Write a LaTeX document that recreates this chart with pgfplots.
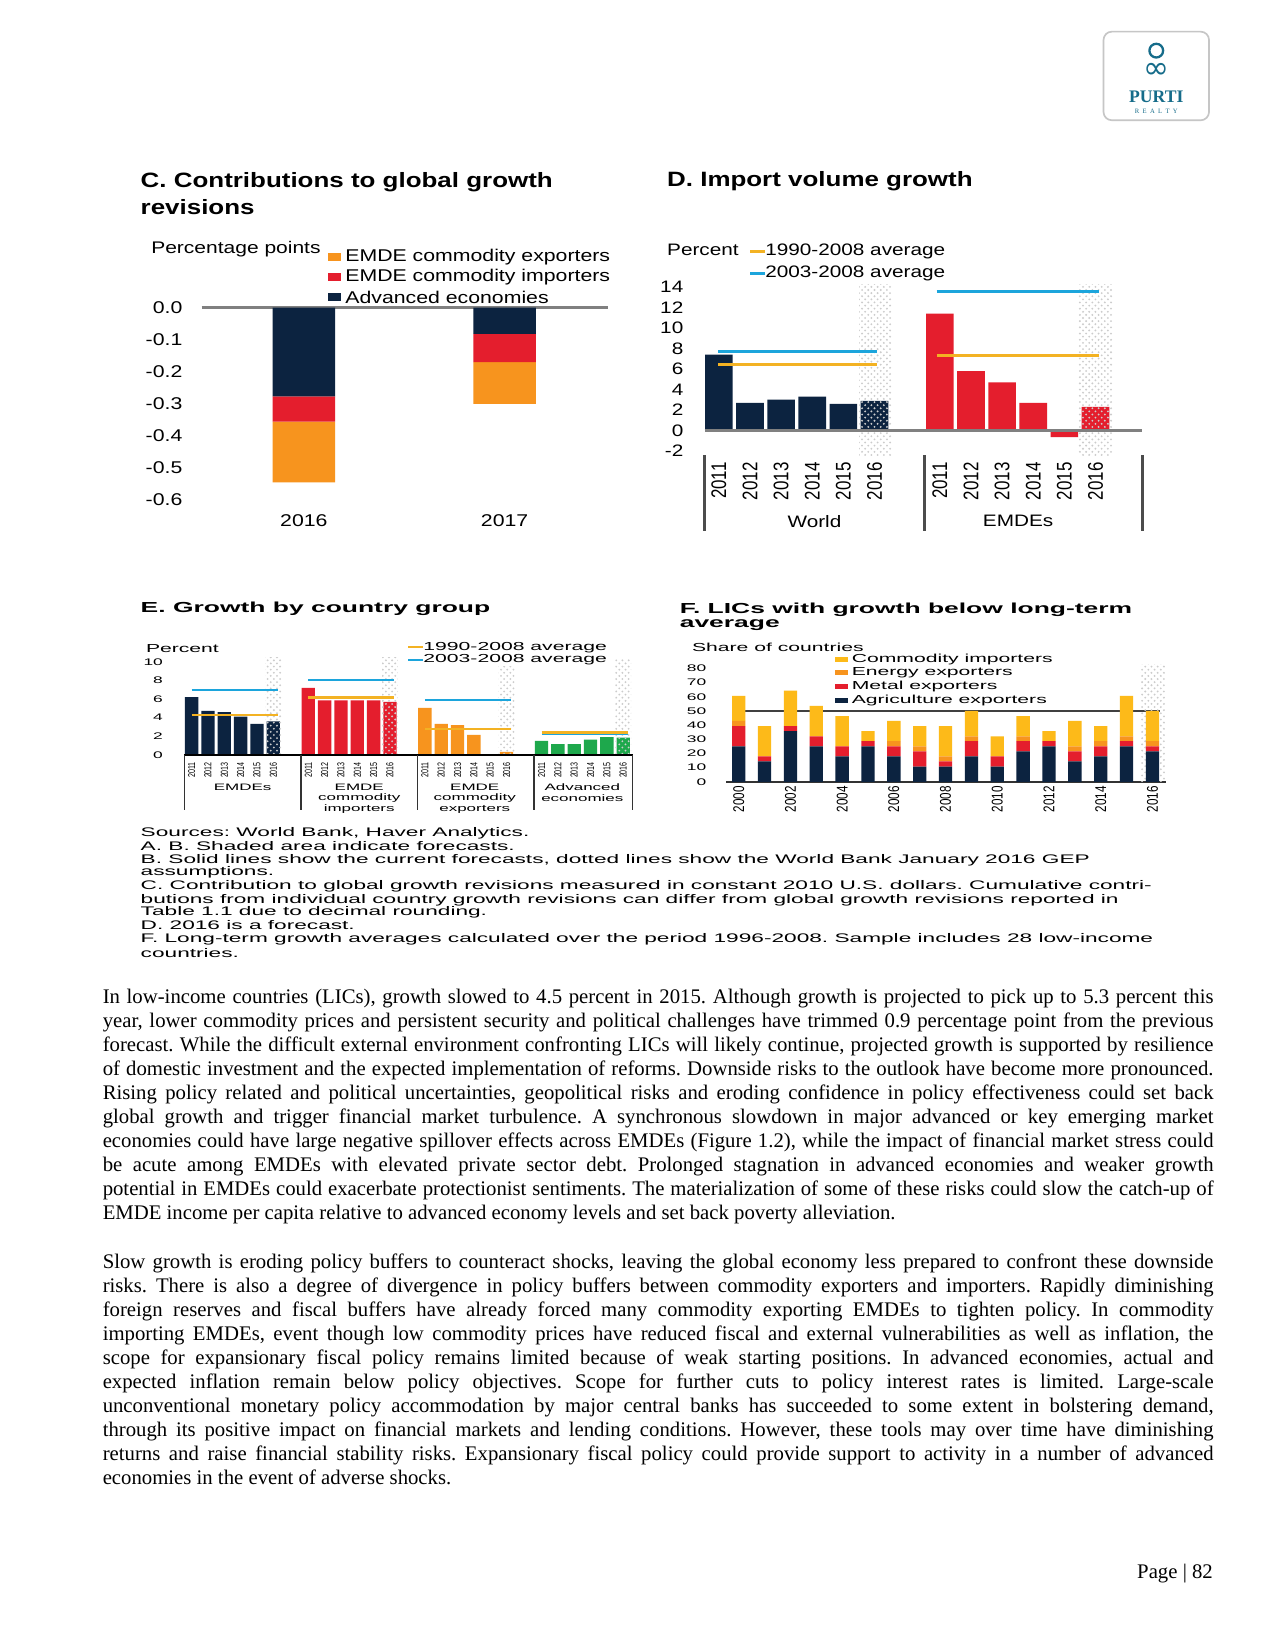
\documentclass[border=0pt]{standalone}
\usepackage{fontspec}
\setmainfont{Liberation Serif}
\newfontfamily\fC[FakeStretch=1.25]{Liberation Sans}
\newfontfamily\fE[FakeStretch=1.82]{Liberation Sans}
\newfontfamily\fRD[FakeStretch=0.8]{Liberation Sans}
\newfontfamily\fRE[FakeStretch=0.7]{Liberation Sans}
\newfontfamily\fRF[FakeStretch=0.75]{Liberation Sans}
\newfontfamily\fsym{DejaVu Sans}
\usepackage{pgfplots}
\pgfplotsset{compat=1.18}
\usetikzlibrary{patterns}
\frenchspacing

\definecolor{navy}{RGB}{12,35,64}
\definecolor{wbred}{RGB}{228,30,45}
\definecolor{wborange}{RGB}{247,148,30}
\definecolor{wbyellow}{RGB}{253,186,25}
\definecolor{avgyellow}{RGB}{243,178,35}
\definecolor{avgblue}{RGB}{28,165,220}
\definecolor{wbgreen}{RGB}{30,168,76}
\definecolor{logo}{RGB}{22,108,138}

\newcommand\fs[1]{\fontsize{#1}{#1}\selectfont}
% one justified line of body text, and a last (ragged) line
\newcommand\JL[2]{\node[anchor=base west,inner sep=0pt] at (97,#1) {\hbox to 533.4bp{#2}};}
\newcommand\LL[2]{\node[anchor=base west,inner sep=0pt] at (97,#1) {#2};}
\newcommand\NL[2]{\node[anchor=west,inner sep=0pt,font=\fE\fs{6}] at (133,#1) {#2};}

\pgfplotsset{
  page/.style={scale only axis, anchor=south west, clip=false, enlargelimits=false,
    axis line style={draw=none}, major tick length=0pt,
    tick label style={inner sep=0pt}},
}
\tikzset{shade/.style={pattern=crosshatch dots, pattern color=gray!40},
  lbl/.style={anchor=west, inner sep=0pt}}

\begin{document}
\begin{tikzpicture}[x=0.5066bp,y=-0.5066bp]
\path[fill=white,use as bounding box] (0,0) rectangle (1208.5,1564);

% logo
\draw[gray!45, line width=0.8bp, rounded corners=4bp] (1046,30) rectangle (1146,114);
\draw[logo, line width=1.1bp] (1096,48) circle (6.5);
\node[text=logo, inner sep=0pt] at (1096,67) {\fsym\fs{15}∞};
\node[text=logo, inner sep=0pt, anchor=base] at (1096,97) {\fs{8.5}\bfseries PURTI};
\node[text=logo, inner sep=0pt, anchor=base] at (1096,107.5) {\fs{3.2}R\ \ E\ \ A\ \ L\ \ T\ \ Y};

% ---------------- C ----------------
\node[lbl, font=\fC\bfseries\fs{10}] at (133,172.5) {C. Contributions to global growth};
\node[lbl, font=\fC\bfseries\fs{10}] at (133,196) {revisions};
\node[lbl, font=\fC\fs{8.1}] at (143,236) {Percentage points};
\fill[wborange] (311,240) rectangle (323,247.3);
\fill[wbred] (311,258.9) rectangle (323,266.2);
\fill[navy] (311,277.8) rectangle (323,285.1);
\node[lbl, font=\fC\fs{8.2}] at (327,243.6) {EMDE commodity exporters};
\node[lbl, font=\fC\fs{8.2}] at (327,262.6) {EMDE commodity importers};
\node[lbl, font=\fC\fs{8.2}] at (327,281.5) {Advanced economies};

\coordinate (C0) at (191,474);
\begin{axis}[page, at={(C0)}, width=195bp, height=92.4bp,
  xmin=-0.51, xmax=1.513, ymin=-0.6, ymax=0,
  ybar stacked, bar width=30.1bp,
  xtick={0,1}, xticklabels={2016,2017},
  ytick={-0.6,-0.5,-0.4,-0.3,-0.2,-0.1,0},
  yticklabels={-0.6,-0.5,-0.4,-0.3,-0.2,-0.1,0.0},
  tick label style={font=\fC\fs{8.2}},
  yticklabel style={anchor=east, xshift=-9bp},
  xticklabel style={anchor=north}, xticklabel shift=6.6bp]
\addplot[fill=navy, draw=none] coordinates {(0,-0.277) (1,-0.082)};
\addplot[fill=wbred, draw=none] coordinates {(0,-0.078) (1,-0.088)};
\addplot[fill=wborange, draw=none] coordinates {(0,-0.19) (1,-0.13)};
\draw[gray, line width=1.2bp] (axis cs:-0.51,0) -- (axis cs:1.513,0);
\end{axis}

% ---------------- D ----------------
\node[lbl, font=\fC\bfseries\fs{10}] at (632,172) {D. Import volume growth};
\node[lbl, font=\fC\fs{8}] at (632,237) {Percent};
\draw[avgyellow, line width=1.5bp] (711,238.6) -- (725,238.6);
\draw[avgblue, line width=1.5bp] (711,259) -- (725,259);
\node[lbl, font=\fC\fs{8}] at (725,238.6) {1990-2008 average};
\node[lbl, font=\fC\fs{8}] at (725,259) {2003-2008 average};

\coordinate (D0) at (668,431.3);
\begin{axis}[page, at={(D0)}, width=210.2bp, height=82.1bp,
  xmin=-0.454, xmax=13.61, ymin=-2.4, ymax=14.3,
  xtick={0,1,2,3,4,5,7.1,8.1,9.1,10.1,11.1,12.1},
  xticklabels={2011,2012,2013,2014,2015,2016,2011,2012,2013,2014,2015,2016},
  ytick={-2,0,2,4,6,8,10,12,14}, yticklabels={-2,0,2,4,6,8,10,12,14},
  yticklabel style={font=\fC\fs{8}, anchor=east, xshift=-10.1bp},
  xticklabel style={font=\fRD\fs{10.2}, rotate=90, anchor=east},
  xticklabel shift=3.4bp]
\addplot[ybar, bar width=13.3bp, bar shift=0pt, fill=navy, draw=none]
  coordinates {(0,7.4) (1,2.7) (2,3.0) (3,3.3) (4,2.6) (5,2.9)};
\addplot[ybar, bar width=13.3bp, bar shift=0pt, fill=wbred, draw=none]
  coordinates {(7.1,11.4) (8.1,5.8) (9.1,4.7) (10.1,2.7) (11.1,-0.65) (12.1,2.3)};
\fill[shade] (axis cs:4.51,-2.4) rectangle (axis cs:5.55,14.3);
\fill[shade] (axis cs:11.55,-2.4) rectangle (axis cs:12.65,14.3);
\draw[gray, line width=1.3bp] (axis cs:-0.454,0) -- (axis cs:13.61,0);
\addplot[sharp plot, avgblue, line width=1.5bp] coordinates {(-0.02,7.75) (5.08,7.75)};
\addplot[sharp plot, avgyellow, line width=1.5bp] coordinates {(-0.02,6.4) (5.08,6.4)};
\addplot[sharp plot, avgblue, line width=1.5bp] coordinates {(7.0,13.6) (12.2,13.6)};
\addplot[sharp plot, avgyellow, line width=1.5bp] coordinates {(7.0,7.3) (12.2,7.3)};
\draw[gray!60!black, line width=1.2bp] (axis cs:-0.454,-2.4) -- (axis cs:-0.454,-9.8);
\draw[gray!60!black, line width=1.2bp] (axis cs:6.6,-2.4) -- (axis cs:6.6,-9.8);
\draw[gray!60!black, line width=1.2bp] (axis cs:13.61,-2.4) -- (axis cs:13.61,-9.8);
\end{axis}
\node[font=\fC\fs{8}, inner sep=0pt] at (772,494) {World};
\node[font=\fC\fs{8}, inner sep=0pt] at (965,494) {EMDEs};

% ---------------- E ----------------
\node[lbl, font=\fE\bfseries\fs{7}] at (133,577.5) {E. Growth by country group};
\node[lbl, font=\fE\fs{5.6}] at (138,615) {Percent};
\draw[avgyellow, line width=1bp] (387,613.6) -- (401,613.6);
\draw[avgblue, line width=1bp] (387,625.6) -- (401,625.6);
\node[lbl, font=\fE\fs{5.6}] at (401,613.6) {1990-2008 average};
\node[lbl, font=\fE\fs{5.6}] at (401,625.6) {2003-2008 average};

\coordinate (E0) at (174.7,715.5);
\begin{axis}[page, at={(E0)}, width=215.3bp, height=46.9bp,
  xmin=-0.45, xmax=27, ymin=0, ymax=10.5,
  xtick={0,1,2,3,4,5,7.14,8.14,9.14,10.14,11.14,12.14,14.28,15.28,16.28,17.28,18.28,19.28,21.42,22.42,23.42,24.42,25.42,26.42},
  xticklabels={2011,2012,2013,2014,2015,2016,2011,2012,2013,2014,2015,2016,2011,2012,2013,2014,2015,2016,2011,2012,2013,2014,2015,2016},
  ytick={0,2,4,6,8,10}, yticklabels={0,2,4,6,8,10},
  yticklabel style={font=\fE\fs{4.6}, anchor=east, xshift=-10.1bp},
  xticklabel style={font=\fRE\fs{4.9}, rotate=90, anchor=east},
  xticklabel shift=3.3bp]
\addplot[ybar, bar width=6.4bp, bar shift=0pt, fill=navy, draw=none]
  coordinates {(0,6.2) (1,4.73) (2,4.6) (3,4.1) (4,3.33) (5,3.6)};
\addplot[ybar, bar width=6.4bp, bar shift=0pt, fill=wbred, draw=none]
  coordinates {(7.14,7.2) (8.14,5.85) (9.14,5.85) (10.14,5.85) (11.14,5.85) (12.14,5.7)};
\addplot[ybar, bar width=6.4bp, bar shift=0pt, fill=wborange, draw=none]
  coordinates {(14.28,5.05) (15.28,3.33) (16.28,3.19) (17.28,2.15) (18.28,0.08) (19.28,0.32)};
\addplot[ybar, bar width=6.4bp, bar shift=0pt, fill=wbgreen, draw=none]
  coordinates {(21.42,1.5) (22.42,1.15) (23.42,1.15) (24.42,1.65) (25.42,1.9) (26.42,1.85)};
\fill[shade] (axis cs:4.52,0) rectangle (axis cs:5.48,10.5);
\fill[shade] (axis cs:11.66,0) rectangle (axis cs:12.62,10.5);
\fill[shade] (axis cs:18.80,0) rectangle (axis cs:19.76,9.5);
\fill[shade] (axis cs:25.94,0) rectangle (axis cs:26.90,10.2);
\addplot[sharp plot, avgblue, line width=1bp] coordinates {(0,7.0) (5.27,7.0)};
\addplot[sharp plot, avgyellow, line width=1bp] coordinates {(0,4.3) (5.27,4.3)};
\addplot[sharp plot, avgblue, line width=1bp] coordinates {(7.14,8.0) (12.41,8.0)};
\addplot[sharp plot, avgyellow, line width=1bp] coordinates {(7.14,6.17) (12.41,6.17)};
\addplot[sharp plot, avgblue, line width=1bp] coordinates {(14.28,5.9) (19.55,5.9)};
\addplot[sharp plot, avgyellow, line width=1bp] coordinates {(14.28,2.8) (19.55,2.8)};
\addplot[sharp plot, avgblue, line width=1bp] coordinates {(21.42,2.25) (26.7,2.25)};
\addplot[sharp plot, avgyellow, line width=1bp] coordinates {(21.42,2.4) (26.7,2.4)};
\draw[black, line width=0.7bp] (axis cs:-0.45,0) -- (axis cs:27,0);
\draw[black!80, line width=0.7bp] (axis cs:-0.45,0) -- (axis cs:-0.45,-5.95);
\draw[black!80, line width=0.7bp] (axis cs:6.69,0) -- (axis cs:6.69,-5.95);
\draw[black!80, line width=0.7bp] (axis cs:13.83,0) -- (axis cs:13.83,-5.95);
\draw[black!80, line width=0.7bp] (axis cs:20.97,0) -- (axis cs:20.97,-5.95);
\draw[black!80, line width=0.7bp] (axis cs:27,0) -- (axis cs:27,-5.95);
\end{axis}
\node[font=\fE\fs{4.5}, inner sep=0pt] at (230,746) {EMDEs};
\node[font=\fE\fs{4.5}, inner sep=0pt] at (340.5,746) {EMDE};
\node[font=\fE\fs{4.5}, inner sep=0pt] at (340.5,756.5) {commodity};
\node[font=\fE\fs{4.5}, inner sep=0pt] at (340.5,767) {importers};
\node[font=\fE\fs{4.5}, inner sep=0pt] at (450,746) {EMDE};
\node[font=\fE\fs{4.5}, inner sep=0pt] at (450,756.5) {commodity};
\node[font=\fE\fs{4.5}, inner sep=0pt] at (450,767) {exporters};
\node[font=\fE\fs{4.5}, inner sep=0pt] at (552,746) {Advanced};
\node[font=\fE\fs{4.5}, inner sep=0pt] at (552,756.5) {economies};

% ---------------- F ----------------
\node[lbl, font=\fE\bfseries\fs{7}] at (644,577.6) {F. LICs with growth below long-term};
\node[lbl, font=\fE\bfseries\fs{7}] at (644,593) {average};
\node[lbl, font=\fE\fs{5.6}] at (655.6,613.6) {Share of countries};
\fill[wbyellow] (791.5,622.6) rectangle (804,627.4);
\fill[wborange] (791.5,635.2) rectangle (804,640);
\fill[wbred] (791.5,648.5) rectangle (804,653.3);
\fill[navy] (791.5,662) rectangle (804,666.8);
\node[lbl, font=\fE\fs{5.6}] at (807,625) {Commodity importers};
\node[lbl, font=\fE\fs{5.6}] at (807,637.6) {Energy exporters};
\node[lbl, font=\fE\fs{5.6}] at (807,650.9) {Metal exporters};
\node[lbl, font=\fE\fs{5.6}] at (807,664.4) {Agriculture exporters};

\coordinate (F0) at (688.2,741);
\begin{axis}[page, at={(F0)}, width=211.2bp, height=57.15bp,
  xmin=1999.51, xmax=2016.52, ymin=0, ymax=84,
  ybar stacked, bar width=6.4bp,
  xtick={2000,2002,2004,2006,2008,2010,2012,2014,2016},
  xticklabels={2000,2002,2004,2006,2008,2010,2012,2014,2016},
  ytick={0,10,20,30,40,50,60,70,80}, yticklabels={0,10,20,30,40,50,60,70,80},
  yticklabel style={font=\fE\fs{4.6}, anchor=east, xshift=-9.3bp},
  xticklabel style={font=\fRF\fs{7.5}, rotate=90, anchor=east},
  xticklabel shift=2bp]
\addplot[fill=navy, draw=none] coordinates {(2000,25) (2001,14.3) (2002,35.7) (2003,25) (2004,17.9) (2005,25) (2006,17.9) (2007,10.7) (2008,10.7) (2009,17.9) (2010,10.7) (2011,21.4) (2012,25) (2013,14.3) (2014,17.9) (2015,25) (2016,21.4)};
\addplot[fill=wbred, draw=none] coordinates {(2000,14.3) (2001,3.6) (2002,3.6) (2003,7.1) (2004,7.1) (2005,3.6) (2006,7.1) (2007,10.7) (2008,3.6) (2009,10.7) (2010,7.2) (2011,7.2) (2012,3.6) (2013,7.1) (2014,7.1) (2015,3.6) (2016,3.6)};
\addplot[fill=wborange, draw=none] coordinates {(2000,3.6) (2001,0) (2002,0) (2003,0) (2004,0) (2005,0) (2006,3.6) (2007,3.6) (2008,3.6) (2009,3.5) (2010,0) (2011,3.5) (2012,0) (2013,3.6) (2014,3.6) (2015,3.5) (2016,3.6)};
\addplot[fill=wbyellow, draw=none] coordinates {(2000,17.8) (2001,21.4) (2002,25) (2003,21.5) (2004,21.4) (2005,7.1) (2006,14.3) (2007,14.3) (2008,21.4) (2009,17.9) (2010,14.2) (2011,14.3) (2012,7.1) (2013,17.9) (2014,10.7) (2015,28.6) (2016,21.4)};
\fill[shade] (axis cs:2015.52,0) rectangle (axis cs:2016.5,83);
\draw[black!75, line width=0.6bp] (axis cs:2000,50) -- (axis cs:2016.3,50);
\draw[black!80, line width=0.8bp] (axis cs:1999.51,0) -- (axis cs:2016.52,0);
\end{axis}

% ---------------- notes ----------------
\NL{790}{Sources: World Bank, Haver Analytics.}
\NL{802}{A. B. Shaded area indicate forecasts.}
\NL{815}{B. Solid lines show the current forecasts, dotted lines show the World Bank January 2016 GEP}
\NL{827}{assumptions.}
\NL{840}{C. Contribution to global growth revisions measured in constant 2010 U.S. dollars. Cumulative contri-}
\NL{853}{butions from individual country growth revisions can differ from global growth revisions reported in}
\NL{865}{Table 1.1 due to decimal rounding.}
\NL{877}{D. 2016 is a forecast.}
\NL{890}{F. Long-term growth averages calculated over the period 1996-2008. Sample includes 28 low-income}
\NL{903}{countries.}

% ---------------- body text ----------------
\begin{scope}[font=\fontsize{10}{11.55}\selectfont\frenchspacing]
\JL{951.5}{In low-income countries (LICs), growth slowed to 4.5 percent in 2015. Although growth is projected to pick up to 5.3 percent this}
\JL{974.25}{year, lower commodity prices and persistent security and political challenges have trimmed 0.9 percentage point from the previous}
\JL{997}{forecast. While the difficult external environment confronting LICs will likely continue, projected growth is supported by resilience}
\JL{1019.75}{of domestic investment and the expected implementation of reforms. Downside risks to the outlook have become more pronounced.}
\JL{1042.5}{Rising policy related and political uncertainties, geopolitical risks and eroding confidence in policy effectiveness could set back}
\JL{1065.25}{global growth and trigger financial market turbulence. A synchronous slowdown in major advanced or key emerging market}
\JL{1088}{economies could have large negative spillover effects across EMDEs (Figure 1.2), while the impact of financial market stress could}
\JL{1110.75}{be acute among EMDEs with elevated private sector debt. Prolonged stagnation in advanced economies and weaker growth}
\JL{1133.5}{potential in EMDEs could exacerbate protectionist sentiments. The materialization of some of these risks could slow the catch-up of}
\LL{1156.25}{EMDE income per capita relative to advanced economy levels and set back poverty alleviation.}

\JL{1202.5}{Slow growth is eroding policy buffers to counteract shocks, leaving the global economy less prepared to confront these downside}
\JL{1225.25}{risks. There is also a degree of divergence in policy buffers between commodity exporters and importers. Rapidly diminishing}
\JL{1248}{foreign reserves and fiscal buffers have already forced many commodity exporting EMDEs to tighten policy. In commodity}
\JL{1270.75}{importing EMDEs, event though low commodity prices have reduced fiscal and external vulnerabilities as well as inflation, the}
\JL{1293.5}{scope for expansionary fiscal policy remains limited because of weak starting positions. In advanced economies, actual and}
\JL{1316.25}{expected inflation remain below policy objectives. Scope for further cuts to policy interest rates is limited. Large-scale}
\JL{1339}{unconventional monetary policy accommodation by major central banks has succeeded to some extent in bolstering demand,}
\JL{1361.75}{through its positive impact on financial markets and lending conditions. However, these tools may over time have diminishing}
\JL{1384.5}{returns and raise financial stability risks. Expansionary fiscal policy could provide support to activity in a number of advanced}
\LL{1407.25}{economies in the event of adverse shocks.}

\node[anchor=base east, inner sep=0pt] at (1150,1496) {Page | 82};
\end{scope}
\end{tikzpicture}
\end{document}
